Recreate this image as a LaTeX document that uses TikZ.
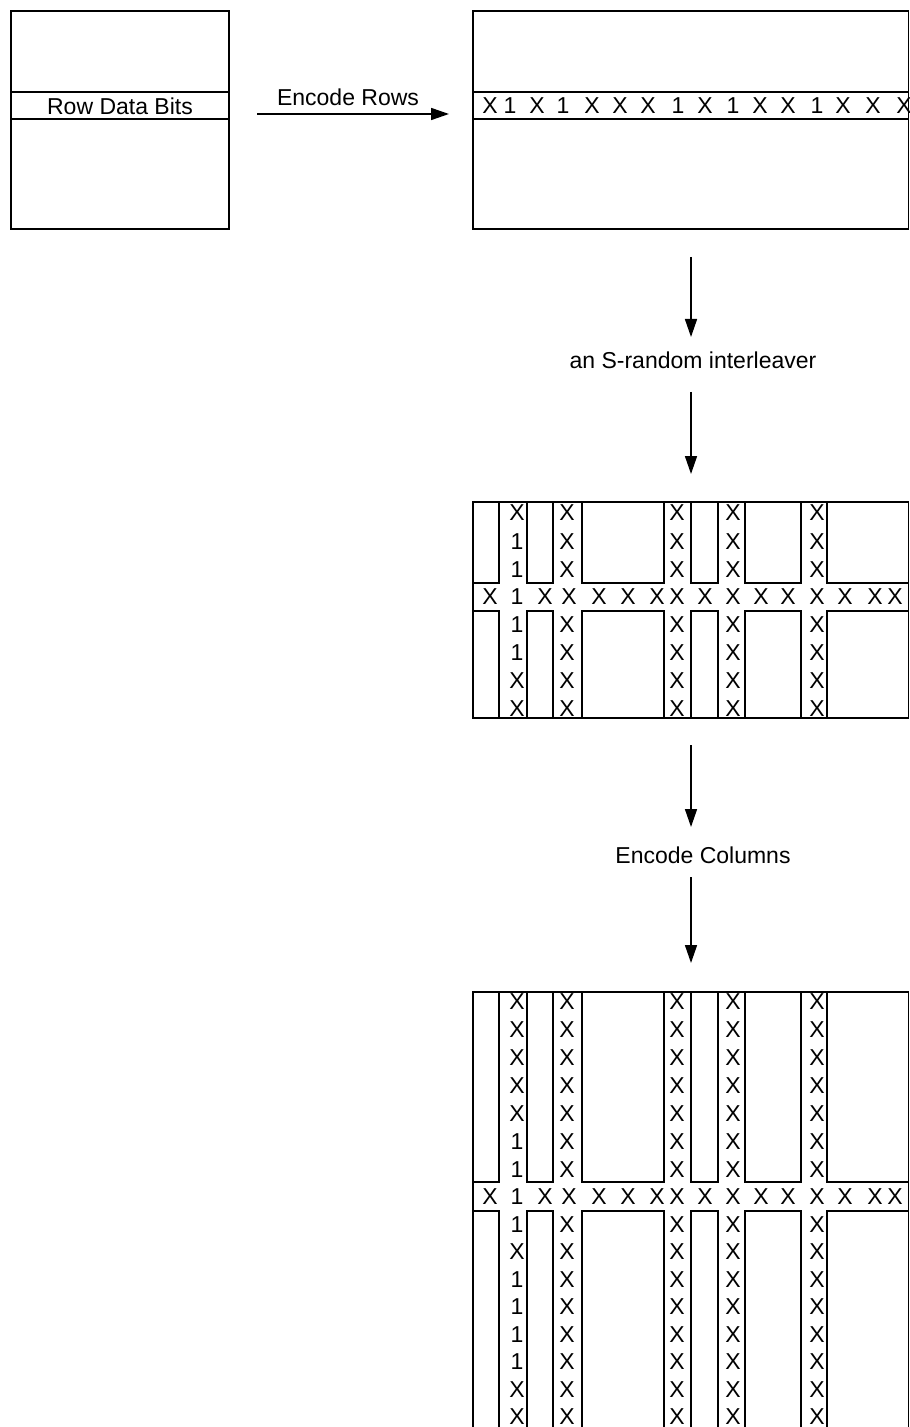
\documentclass[tikz,border=0pt]{standalone}
\usepackage{fontspec}
\setmainfont{Liberation Sans}
\usetikzlibrary{arrows.meta}
\begin{document}
\begin{tikzpicture}[x=0.5pt,y=-0.5pt,
  line width=0.8pt,
  every node/.style={font=\fontsize{11.5pt}{13pt}\selectfont},
  arr/.style={-{Triangle[length=9pt,width=6pt]}},
  sym/.style={inner sep=0pt, anchor=center},
  boxnode/.style={draw, inner sep=0pt},
]
\useasboundingbox (0,0) rectangle (909,1427);
\clip (0,0) rectangle (909,1427);

% ---------- source block with the row of data bits ----------
\node[boxnode, minimum width=109pt, minimum height=109pt] (src) at (120,120) {};
\draw (11,92) -- (229,92);
\draw (11,119) -- (229,119);
\node[sym] (srclbl) at (120,106) {Row Data Bits};

% ---------- row encoding ----------
\coordinate (er1) at (257,114);
\coordinate (er2) at (449,114);
\draw[arr] (er1) -- (er2);
\node[sym] (erlbl) at (348,97) {Encode Rows};

% ---------- block after row encoding ----------
\node[boxnode, minimum width=217.8pt, minimum height=109pt] (rowenc) at (690.8,120) {};
\draw (473,92) -- (909,92);
\draw (473,119) -- (909,119);
\foreach \x/\t in {490/X,510/1,537/X,563/1,592/X,620/X,648/X,678/1,705/X,733/1,760/X,788/X,817/1,843/X,873/X,904/X}
  \node[sym] (ra\x) at (\x,106) {\t};

% ---------- interleaver ----------
\coordinate (v1a) at (691,257);
\coordinate (v1b) at (691,337);
\draw[arr] (v1a) -- (v1b);
\node[sym] (intl) at (693,360) {an S-random interleaver};
\coordinate (v2a) at (691,392);
\coordinate (v2b) at (691,474);
\draw[arr] (v2a) -- (v2b);

% ---------- interleaved block ----------
\draw (473,502) rectangle (908.6,718);
\foreach \a/\b in {473/499,527/553,582/664,691/718,745/801,827/908.6} {
  \draw (\a,502) rectangle (\b,583);
  \draw (\a,611) rectangle (\b,718);
}
\foreach \y/\t [count=\r] in {513/X,542/1,570/1,625/1,653/1,681/X,709/X}
  \node[sym] (ma\r) at (517,\y) {\t};
\foreach \y [count=\r] in {513,542,570,625,653,681,709}
  \foreach \x [count=\c] in {567,677,733,817}
    \node[sym] (mb\r-\c) at (\x,\y) {X};
\foreach \x/\t in {490/X,517/1,545/X,569/X,599/X,628/X,657/X,677/X,705/X,733/X,761/X,788/X,817/X,845/X,875/X,895/X}
  \node[sym] (mr\x) at (\x,597) {\t};

% ---------- column encoding ----------
\coordinate (v3a) at (691,745);
\coordinate (v3b) at (691,827);
\draw[arr] (v3a) -- (v3b);
\node[sym] (enccol) at (703,855) {Encode Columns};
\coordinate (v4a) at (691,877);
\coordinate (v4b) at (691,963);
\draw[arr] (v4a) -- (v4b);

% ---------- block after column encoding ----------
\draw (473,992) rectangle (908.6,1500);
\foreach \a/\b in {473/499,527/553,582/664,691/718,745/801,827/908.6} {
  \draw (\a,992) rectangle (\b,1182);
  \draw (\a,1211) rectangle (\b,1500);
}
\foreach \y/\t [count=\r] in {1002/X,1030/X,1058/X,1086/X,1114/X,1142/1,1170/1,1225/1,1252/X,1280/1,1307/1,1335/1,1362/1,1390/X,1417/X}
  \node[sym] (ca\r) at (517,\y) {\t};
\foreach \y [count=\r] in {1002,1030,1058,1086,1114,1142,1170,1225,1252,1280,1307,1335,1362,1390,1417}
  \foreach \x [count=\c] in {567,677,733,817}
    \node[sym] (cb\r-\c) at (\x,\y) {X};
\foreach \x/\t in {490/X,517/1,545/X,569/X,599/X,628/X,657/X,677/X,705/X,733/X,761/X,788/X,817/X,845/X,875/X,895/X}
  \node[sym] (cr\x) at (\x,1197) {\t};
\end{tikzpicture}
\end{document}
